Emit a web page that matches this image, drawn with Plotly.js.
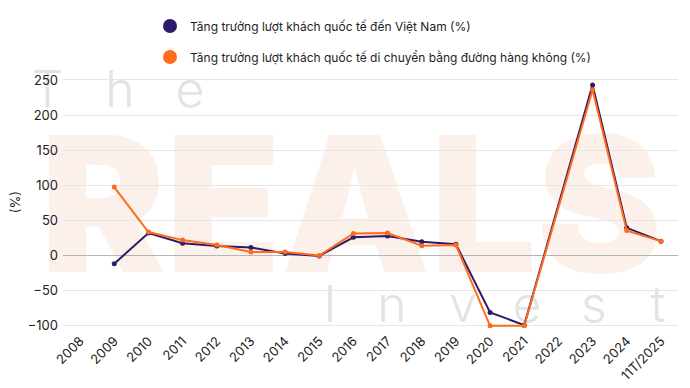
<!DOCTYPE html>
<html>
<head>
<meta charset="utf-8">
<script src="https://cdn.plot.ly/plotly-3.0.1.min.js"></script>
<style>html,body{margin:0;padding:0;background:#fff;}#chart{width:690px;height:388px;}</style>
</head>
<body>
<div id="chart"></div>
<script>
const categories = ['2008','2009','2010','2011','2012','2013','2014','2015','2016','2017','2018','2019','2020','2021','2022','2023','2024','11T/2025'];
const vnArrivals = [null, -11.5, 32, 17.5, 13.5, 11.5, 3, -0.5, 26, 28, 19.5, 16, -81, -99, null, 243, 39.5, 20.5];
const airArrivals = [null, 97.5, 33.5, 22, 15, 5, 5, 0, 31.5, 32, 14, 15, -100, -100, null, 236, 35.5, 20.5];
const seriesNames = ['Tăng trưởng lượt khách quốc tế đến Việt Nam (%)', 'Tăng trưởng lượt khách quốc tế di chuyển bằng đường hàng không (%)'];
const seriesColors = ['#2e1a6b', '#ff6b1a'];

const FONT = 'Inter, "Noto Sans", sans-serif';
const L = 63, R = 678, T = 72, B = 330;
const px = v => (v - L) / (R - L);
const py = v => (B - v) / (B - T);

function wm(text, cx, y0, y1, w, size, color, weight) {
  return {
    type: 'rect', layer: 'below', xref: 'paper', yref: 'paper',
    x0: px(cx - w / 2), x1: px(cx + w / 2), y0: py(y1), y1: py(y0),
    line: {width: 0}, fillcolor: 'rgba(0,0,0,0)',
    label: {text: text, textposition: 'middle center',
      font: {family: FONT, size: size, color: color, weight: weight}}
  };
}
const grey = '#e3e3e3', peach = '#fbf1ea';
const shapes = [
  wm('REALS', 351, 128, 265, 640, 188, peach, 900),
  wm('T', 47.5, 67, 103, 40, 50, grey, 300),
  wm('h', 120, 67, 103, 40, 50, grey, 300),
  wm('e', 190, 67, 103, 40, 50, grey, 300),
  wm('I', 330, 283, 320, 40, 50, grey, 300),
  wm('n', 392, 283, 320, 40, 50, grey, 300),
  wm('v', 463, 283, 320, 40, 50, grey, 300),
  wm('e', 527, 283, 320, 40, 50, grey, 300),
  wm('s', 594, 283, 320, 40, 50, grey, 300),
  wm('t', 658, 283, 320, 40, 50, grey, 300)
];

const data = [
  {x: categories, y: vnArrivals, type: 'scatter', mode: 'lines+markers', connectgaps: true,
   line: {color: seriesColors[0], width: 2}, marker: {color: seriesColors[0], size: 5}, showlegend: false, name: seriesNames[0]},
  {x: categories, y: airArrivals, type: 'scatter', mode: 'lines+markers', connectgaps: true,
   line: {color: seriesColors[1], width: 2}, marker: {color: seriesColors[1], size: 5}, showlegend: false, name: seriesNames[1]},
  {x: [null], y: [null], type: 'scatter', mode: 'markers', name: seriesNames[0], legendgroup: 'a',
   marker: {color: seriesColors[0], size: 14}},
  {x: [null], y: [null], type: 'scatter', mode: 'markers', name: seriesNames[1], legendgroup: 'b',
   marker: {color: seriesColors[1], size: 14}}
];

const layout = {
  width: 690, height: 388,
  margin: {l: L, r: 690 - R, t: T, b: 388 - B, pad: 0},
  paper_bgcolor: '#fff', plot_bgcolor: 'rgba(0,0,0,0)',
  font: {family: FONT, size: 13, color: '#222'},
  showlegend: true,
  legend: {x: px(150), xanchor: 'left', y: py(9), yanchor: 'top', orientation: 'v',
    tracegroupgap: 12, font: {size: 12, color: '#1e1e1e'}, bgcolor: 'rgba(0,0,0,0)'},
  xaxis: {type: 'category', tickangle: -45, showgrid: false, zeroline: false, showline: false,
    ticks: '', tickfont: {size: 13, color: '#222'}, range: [-0.5, 17.5]},
  yaxis: {range: [-106, 258.5], tickvals: [-100, -50, 0, 50, 100, 150, 200, 250],
    showgrid: true, gridcolor: '#e6e6e6', gridwidth: 1, zeroline: true, zerolinecolor: '#b5b5b5', zerolinewidth: 1,
    showline: false, ticks: '', tickfont: {size: 13, color: '#222'}, ticklabelstandoff: 4,
    title: {text: '(%)', font: {size: 13, color: '#222'}, standoff: 4}},
  shapes: shapes
};

Plotly.newPlot('chart', data, layout, {displayModeBar: false, staticPlot: true});
</script>
</body>
</html>
